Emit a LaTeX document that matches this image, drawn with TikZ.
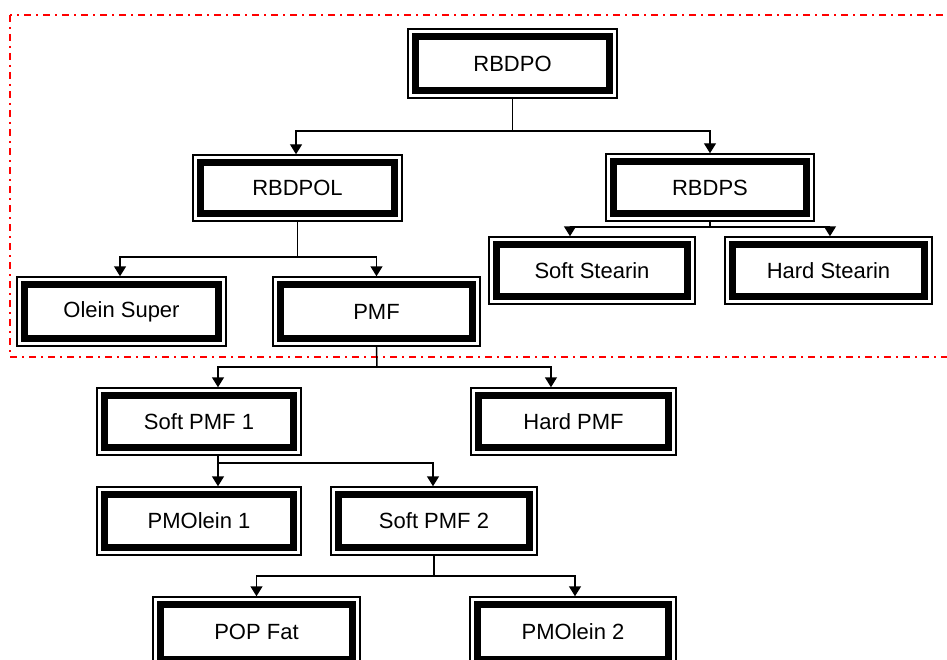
\documentclass[tikz,border=0pt]{standalone}
\usepackage{fontspec}
\setmainfont{Liberation Sans}
\usetikzlibrary{arrows.meta,calc}
\begin{document}
\begin{tikzpicture}[x=0.75pt,y=-0.75pt,
  pbox/.style 2 args={draw=black, line width=1.1pt, fill=white,
    minimum width={#1*0.75pt}, minimum height={#2*0.75pt}, inner sep=0pt,
    font=\fontsize{16.5}{19}\selectfont,
    path picture={\draw[line width=5.25pt]
      ([shift={(7.5,7.5)}]path picture bounding box.north west) rectangle
      ([shift={(-7.5,-7.5)}]path picture bounding box.south east);}},
  conn/.style={draw=black, line width=1.1pt},
  arr/.style={conn, -{Triangle[width=9pt,length=7.5pt]}},
  frame/.style={draw=red, line width=1.5pt,
    dash pattern=on 5.25pt off 3.75pt on 1.5pt off 3.75pt}]
\useasboundingbox (0,0) rectangle (947,660);
\clip (0,0) rectangle (947,660);
\fill[white] (0,0) rectangle (947,660);
% dash-dot frame
\draw[frame] (10,15) rectangle (980,357);
% nodes
\node[pbox={209}{69}] (rbdpo)  at (512.5,63.5) {RBDPO};
\node[pbox={209}{66}] (rbdpol) at (297.5,188)  {RBDPOL};
\node[pbox={208}{67}] (rbdps)  at (710,187.5)  {RBDPS};
\node[pbox={206}{67}] (sst)    at (592,270.5)  {Soft Stearin};
\node[pbox={207}{67}] (hst)    at (828.5,270.5){Hard Stearin};
\node[pbox={209}{69}] (olein)  at (121.5,311.5){Olein Super};
\node[pbox={207}{69}] (pmf)    at (376.5,311.5){PMF};
\node[pbox={204}{67}] (sp1)    at (199,421.5)  {Soft PMF 1};
\node[pbox={205}{67}] (hpmf)   at (573.5,421.5){Hard PMF};
\node[pbox={204}{68}] (pmo1)   at (199,521)    {PMOlein 1};
\node[pbox={206}{68}] (sp2)    at (434,521)    {Soft PMF 2};
\node[pbox={207}{70}] (pop)    at (256.5,632)  {POP Fat};
\node[pbox={206}{70}] (pmo2)   at (573,632)    {PMOlein 2};
% bus coordinates
\coordinate (b1) at (512.5,131);
\coordinate (b2) at (297.5,257);
\coordinate (b3) at (710,227);
\coordinate (b4) at (377,367);
\coordinate (b5) at (218,463);
\coordinate (b6) at (434,576);
% connectors
\draw[conn] (rbdpo.south) -- (b1);
\draw[arr] (b1) -| ([xshift=-1.1pt]rbdpol.north);
\draw[arr] (b1) -| (rbdps.north);
\draw[conn] (rbdpol.south) -- (b2);
\draw[arr] (b2) -| ([xshift=-1.1pt]olein.north);
\draw[arr] (b2) -| (pmf.north);
\draw[conn] (rbdps.south) -- (b3);
\draw[arr] (b3) -| ([xshift=-16.5pt]sst.north);
\draw[arr] (b3) -| ([xshift=1.1pt]hst.north);
\draw[conn] (pmf.south) -- (b4);
\draw[arr] (b4) -| ([xshift=14.25pt]sp1.north);
\draw[arr] (b4) -| ([xshift=-16.9pt]hpmf.north);
\draw[conn] ([xshift=14.25pt]sp1.south) -- (b5);
\draw[arr] (b5) -- ([xshift=14.25pt]pmo1.north);
\draw[arr] (b5) -| ([xshift=-0.75pt]sp2.north);
\draw[conn] (sp2.south) -- (b6);
\draw[arr] (b6) -| (pop.north);
\draw[arr] (b6) -| ([xshift=1.5pt]pmo2.north);
\end{tikzpicture}
\end{document}
